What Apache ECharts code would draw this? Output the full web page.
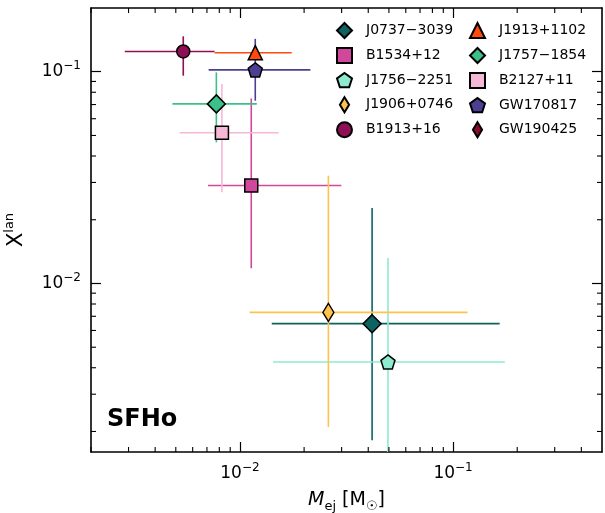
<!DOCTYPE html>
<html>
<head>
    <meta charset="utf-8">
    <title>SFHo X_lan vs M_ej</title>
    <script src="https://cdn.jsdelivr.net/npm/echarts@6/dist/echarts.min.js"></script>
</head>
<body style="margin:0">
    <div id="main" style="width: 605px;height:513px;"></div>
<script type="text/javascript">
    // pulsars / GW events, legend order (column by column)
    var names = ['J0737\u22123039', 'B1534+12', 'J1756\u22122251', 'J1906+0746', 'B1913+16',
                 'J1913+1102', 'J1757\u22121854', 'B2127+11', 'GW170817', 'GW190425'];
    // ejecta mass [Msun] and lanthanide fraction, with error ranges
    var mej    = [0.0417, 0.0113, 0.0495, 0.0260, 0.00542, 0.0118, 0.00775, 0.00823, 0.0118, null];
    var mejLo  = [0.0141, 0.00708, 0.0143, 0.0111, 0.00288, 0.0076, 0.00482, 0.00521, 0.00713, null];
    var mejHi  = [0.1655, 0.0299, 0.175, 0.117, 0.0076, 0.0175, 0.0120, 0.0152, 0.0214, null];
    var xlan   = [0.00646, 0.0290, 0.00426, 0.0073, 0.1247, 0.123, 0.0705, 0.0515, 0.102, null];
    var xlanLo = [0.00182, 0.0118, 0.0012, 0.0021, 0.0958, 0.115, 0.0464, 0.0270, 0.073, null];
    var xlanHi = [0.0227, 0.0748, 0.0132, 0.0323, 0.147, 0.131, 0.0993, 0.0875, 0.143, null];

    var xMajor = [0.01, 0.1];
    var xMinor = [0.002, 0.003, 0.004, 0.005, 0.006, 0.007, 0.008, 0.009,
                  0.02, 0.03, 0.04, 0.05, 0.06, 0.07, 0.08, 0.09, 0.2, 0.3, 0.4];
    var yMajor = [0.01, 0.1];
    var yMinor = [0.002, 0.003, 0.004, 0.005, 0.006, 0.007, 0.008, 0.009,
                  0.02, 0.03, 0.04, 0.05, 0.06, 0.07, 0.08, 0.09];

    var colors = ['#0e6360', '#d0479b', '#8eebd0', '#ffc34d', '#8e0f55',
                  '#ff4a0a', '#3dbf8a', '#f5b8d6', '#4a3f91', '#8a0b25'];
    var pentagon = 'path://M0,-10 L9.51,-3.09 L5.88,8.09 L-5.88,8.09 L-9.51,-3.09 Z';
    var thinDiamond = 'path://M0,-9 L5.5,0 L0,9 L-5.5,0 Z';
    var symbols = ['diamond', 'rect', pentagon, thinDiamond, 'circle',
                   'triangle', 'diamond', 'rect', pentagon, thinDiamond];
    var sizes = [18, 13, 14, [11, 18], 13, 14, 18, 13, 14, [11, 18]];

    var font = 'DejaVu Sans';
    var xMin = 0.002, xMax = 0.5, yMin = 0.0016, yMax = 0.2;

    function powLabel(v) {
        var e = Math.round(Math.log10(v));
        return '{b|10}{sup|' + (e < 0 ? '\u2212' + (-e) : e) + '}';
    }
    var labelRich = {
        b: { fontFamily: font, fontSize: 17, lineHeight: 24, color: '#000' },
        sup: { fontFamily: font, fontSize: 12, lineHeight: 12, verticalAlign: 'top', color: '#000' }
    };

    function makeAxis(kind, pos, withLabels) {
        var ticks = kind === 'x' ? xMajor : yMajor;
        var ax = {
            type: 'log', position: pos, gridIndex: 0,
            min: kind === 'x' ? xMin : yMin,
            max: kind === 'x' ? xMax : yMax,
            axisLine: { show: true, lineStyle: { color: '#000', width: 1.6 } },
            axisTick: { show: true, inside: true, length: 10, customValues: ticks,
                        lineStyle: { color: '#000', width: 1.2 } },
            axisLabel: { show: false },
            splitLine: { show: false }
        };
        if (withLabels) {
            ax.axisLabel = { show: true, customValues: ticks, margin: 10,
                             formatter: powLabel, rich: labelRich };
        }
        return ax;
    }

    var xAxes = [makeAxis('x', 'bottom', true), makeAxis('x', 'top', false)];
    xAxes[0].name = '{it|M}{sub|ej} [M{sub|\u2609}]';
    xAxes[0].nameLocation = 'middle';
    xAxes[0].nameGap = 35;
    xAxes[0].nameTextStyle = {
        rich: {
            it: { fontFamily: font, fontStyle: 'italic', fontSize: 19, lineHeight: 26, color: '#000' },
            sub: { fontFamily: font, fontSize: 13, lineHeight: 12, verticalAlign: 'bottom', color: '#000' }
        },
        fontFamily: font, fontSize: 19, lineHeight: 26, color: '#000'
    };

    var yAxes = [makeAxis('y', 'left', true), makeAxis('y', 'right', false)];
    yAxes[0].name = 'X{sup|lan}';
    yAxes[0].nameLocation = 'middle';
    yAxes[0].nameGap = 56;
    yAxes[0].nameTextStyle = {
        rich: {
            sup: { fontFamily: font, fontSize: 13, lineHeight: 12, verticalAlign: 'top', color: '#000' }
        },
        fontFamily: font, fontSize: 21, lineHeight: 28, color: '#000'
    };

    // error bars: one row per object
    var errData = [];
    for (var i = 0; i < names.length; i++) {
        if (mej[i] == null) continue;
        errData.push([mej[i], xlan[i], mejLo[i], mejHi[i], xlanLo[i], xlanHi[i], i]);
    }

    // minor ticks on all four sides, placed with the log axes
    var minorData = [];
    xMinor.forEach(function (v) { minorData.push([v, yMin, 0]); });
    yMinor.forEach(function (v) { minorData.push([xMin, v, 1]); });

    var series = [{
        name: 'errors',
        type: 'custom',
        clip: true,
        z: 1,
        silent: true,
        encode: { x: 0, y: 1 },
        data: errData,
        renderItem: function (params, api) {
            var x = api.value(0), y = api.value(1), c = colors[api.value(6)];
            var a = api.coord([api.value(2), y]), b = api.coord([api.value(3), y]);
            var d = api.coord([x, api.value(4)]), e = api.coord([x, api.value(5)]);
            var st = { stroke: c, lineWidth: 1.6 };
            return {
                type: 'group',
                children: [
                    { type: 'line', shape: { x1: a[0], y1: a[1], x2: b[0], y2: b[1] }, style: st },
                    { type: 'line', shape: { x1: d[0], y1: d[1], x2: e[0], y2: e[1] }, style: st }
                ]
            };
        }
    }, {
        name: 'minorTicks',
        type: 'custom',
        clip: false,
        z: 5,
        silent: true,
        encode: { x: 0, y: 1 },
        data: minorData,
        renderItem: function (params, api) {
            var cs = params.coordSys, len = 5;
            var p = api.coord([api.value(0), api.value(1)]);
            var st = { stroke: '#000', lineWidth: 1.1 };
            var l1, l2;
            if (api.value(2) === 0) {
                l1 = { x1: p[0], y1: cs.y + cs.height, x2: p[0], y2: cs.y + cs.height - len };
                l2 = { x1: p[0], y1: cs.y, x2: p[0], y2: cs.y + len };
            } else {
                l1 = { x1: cs.x, y1: p[1], x2: cs.x + len, y2: p[1] };
                l2 = { x1: cs.x + cs.width, y1: p[1], x2: cs.x + cs.width - len, y2: p[1] };
            }
            return {
                type: 'group',
                children: [
                    { type: 'line', shape: l1, style: st },
                    { type: 'line', shape: l2, style: st }
                ]
            };
        }
    }];
    for (var k = 0; k < names.length; k++) {
        series.push({
            name: names[k],
            type: 'scatter',
            z: 2,
            symbol: symbols[k],
            symbolSize: sizes[k],
            itemStyle: { color: colors[k], borderColor: '#000', borderWidth: 1.5, opacity: 1 },
            emphasis: { disabled: true },
            data: mej[k] == null ? [] : [[mej[k], xlan[k]]]
        });
    }

    var legendBase = {
        orient: 'vertical', top: 22, padding: 0,
        itemWidth: 15, itemHeight: 15, itemGap: 8,
        selectedMode: false,
        textStyle: { fontFamily: font, fontSize: 14, color: '#000', padding: [0, 0, 0, 9] }
    };
    var legend1 = Object.assign({}, legendBase, { left: 336, data: names.slice(0, 5) });
    var legend2 = Object.assign({}, legendBase, { left: 469, data: names.slice(5) });

    var myChart = echarts.init(document.getElementById('main'));
    var option = {
        animation: false,
        backgroundColor: '#fff',
        grid: { left: 91, right: 3, top: 8, bottom: 61, containLabel: false, outerBoundsMode: 'none' },
        legend: [legend1, legend2],
        xAxis: xAxes,
        yAxis: yAxes,
        series: series,
        graphic: [{
            type: 'text', left: 107, top: 408,
            style: { text: 'SFHo', fontFamily: font, fontSize: 24, fontWeight: 'bold', fill: '#000' }
        }]
    };
    myChart.setOption(option);
</script>
</body>
</html>
